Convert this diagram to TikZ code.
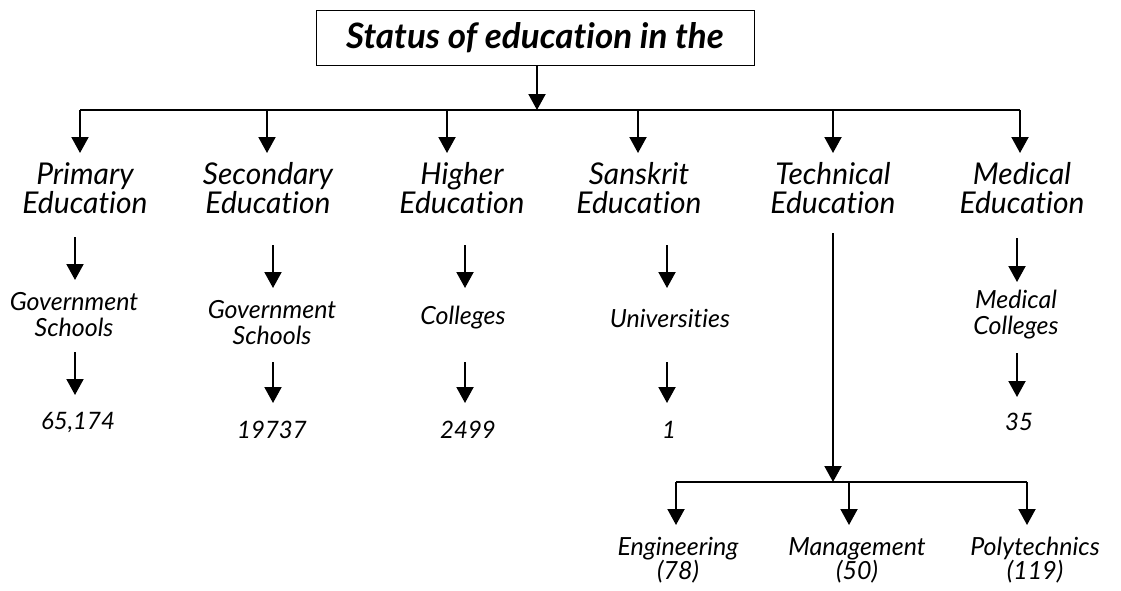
\documentclass[tikz,border=0pt]{standalone}
\usepackage{fontspec}
\setmainfont{Lato}[RawFeature={-liga;-dlig;-clig;-calt}]
\usetikzlibrary{arrows.meta}
\begin{document}
\begin{tikzpicture}[x=1pt,y=-1pt,
  ln/.style={line width=2pt},
  arr/.style={line width=2pt,-{Triangle[width=17pt,length=16pt]}},
  titlebox/.style={draw,line width=1pt,minimum width=438pt,minimum height=55pt,inner sep=0pt,font=\fontsize{35}{38}\selectfont\itshape\bfseries},
  lvone/.style={font=\fontsize{30}{29}\selectfont\itshape,align=center,inner sep=0pt},
  lvtwo/.style={font=\fontsize{25}{26}\selectfont\itshape,align=center,inner sep=0pt},
  lvnum/.style={font=\fontsize{24}{26}\selectfont\itshape,align=center,inner sep=0pt},
  lvthree/.style={font=\fontsize{25}{24}\selectfont\itshape,align=center,inner sep=0pt}]
\path[use as bounding box] (0,0) rectangle (1121,590);

% title
\node[titlebox] (title) at (535,37.5) {Status of education in the};
\coordinate (jt) at (537,110);
\draw[arr] (title.south -| jt) -- (jt);

% branch line
\coordinate (j1) at (80,110);
\coordinate (j2) at (267,110);
\coordinate (j3) at (447,110);
\coordinate (j4) at (638,110);
\coordinate (j5) at (833,110);
\coordinate (j6) at (1020,110);
\draw[ln] (j1) -- (j6);

% level 1
\node[lvone] (prim) at (85,188) {Primary\\Education};
\node[lvone] (sec)  at (268,188) {Secondary\\Education};
\node[lvone] (high) at (462,188) {Higher\\Education};
\node[lvone] (sans) at (639,188) {Sanskrit\\Education};
\node[lvone] (tech) at (833,188) {Technical\\Education};
\node[lvone] (med)  at (1022,188) {Medical\\Education};
\coordinate (t1) at (80,153);
\coordinate (t2) at (267,153);
\coordinate (t3) at (447,153);
\coordinate (t4) at (638,153);
\coordinate (t5) at (833,153);
\coordinate (t6) at (1020,153);
\draw[arr] (j1) -- (t1);
\draw[arr] (j2) -- (t2);
\draw[arr] (j3) -- (t3);
\draw[arr] (j4) -- (t4);
\draw[arr] (j5) -- (t5);
\draw[arr] (j6) -- (t6);

% level 2
\node[lvtwo] (gov1) at (74,315) {Government\\Schools};
\node[lvtwo] (gov2) at (272,323) {Government\\Schools};
\node[lvtwo] (coll) at (463,318) {Colleges};
\node[lvtwo] (univ) at (670,318) {Universities};
\node[lvtwo] (medc) at (1016,315) {Medical\\Colleges};

\coordinate (a1s) at (75,237);  \coordinate (a1e) at (75,280);
\coordinate (a2s) at (273,245); \coordinate (a2e) at (273,288);
\coordinate (a3s) at (465,245); \coordinate (a3e) at (465,288);
\coordinate (a4s) at (667,245); \coordinate (a4e) at (667,288);
\coordinate (a6s) at (1017,238); \coordinate (a6e) at (1017,282);
\draw[arr] (a1s) -- (a1e);
\draw[arr] (a2s) -- (a2e);
\draw[arr] (a3s) -- (a3e);
\draw[arr] (a4s) -- (a4e);
\draw[arr] (a6s) -- (a6e);

% level 3 numbers
\node[lvnum] (n1) at (78,422) {65,174};
\node[lvnum] (n2) at (272,430) {19737};
\node[lvnum] (n3) at (468,430) {2499};
\node[lvnum] (n4) at (669,430) {1};
\node[lvnum] (n6) at (1019,422) {35};

\coordinate (b1s) at (75,352);  \coordinate (b1e) at (75,395);
\coordinate (b2s) at (273,362); \coordinate (b2e) at (273,403);
\coordinate (b3s) at (465,362); \coordinate (b3e) at (465,403);
\coordinate (b4s) at (667,362); \coordinate (b4e) at (667,403);
\coordinate (b6s) at (1017,353); \coordinate (b6e) at (1017,397);
\draw[arr] (b1s) -- (b1e);
\draw[arr] (b2s) -- (b2e);
\draw[arr] (b3s) -- (b3e);
\draw[arr] (b4s) -- (b4e);
\draw[arr] (b6s) -- (b6e);

% technical branch
\coordinate (ts) at (833,233);
\coordinate (tj) at (833,482);
\draw[arr] (ts) -- (tj);
\coordinate (k1) at (676,482);
\coordinate (k2) at (849,482);
\coordinate (k3) at (1027,482);
\draw[ln] (k1) -- (k3);
\coordinate (k1e) at (676,525);
\coordinate (k2e) at (849,525);
\coordinate (k3e) at (1027,525);
\draw[arr] (k1) -- (k1e);
\draw[arr] (k2) -- (k2e);
\draw[arr] (k3) -- (k3e);

\node[lvthree] (eng)  at (678,560) {Engineering\\(78)};
\node[lvthree] (mgmt) at (857,560) {Management\\(50)};
\node[lvthree] (poly) at (1035,560) {Polytechnics\\(119)};
\end{tikzpicture}
\end{document}
